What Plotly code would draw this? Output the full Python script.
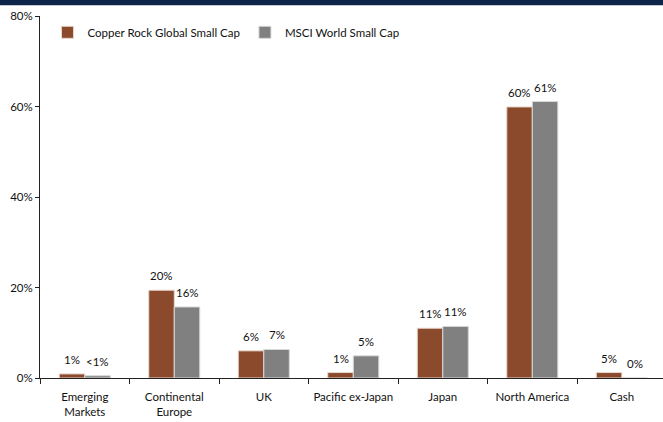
import plotly.graph_objects as go

categories = ["Emerging<br>Markets", "Continental<br>Europe", "UK", "Pacific ex-Japan",
              "Japan", "North America", "Cash"]
series_names = ["Copper Rock Global Small Cap", "MSCI World Small Cap"]
copper_values = [0.9, 19.4, 6.0, 1.2, 11.0, 59.9, 1.2]
msci_values = [0.5, 15.7, 6.3, 4.9, 11.4, 61.1, 0.0]
copper_labels = ["1%", "20%", "6%", "1%", "11%", "60%", "5%"]
msci_labels = ["<1%", "16%", "7%", "5%", "11%", "61%", "0%"]
y_ticks = [0, 20, 40, 60, 80]
y_tick_labels = ["0%", "20%", "40%", "60%", "80%"]

FONT = "Lato, Roboto, Noto Sans, sans-serif"
W, H = 663, 422
ML, MR, MT, MB = 40, 0, 16, 44
X_RANGE = [-0.5, 6.46]
BARGAP = 0.43

fig = go.Figure()
fig.add_trace(go.Bar(
    x=categories, y=copper_values, name=series_names[0],
    marker=dict(color="#8B4A2B", line=dict(color="#E6D6CC", width=1)),
))
fig.add_trace(go.Bar(
    x=categories, y=msci_values, name=series_names[1],
    marker=dict(color="#808080", line=dict(color="#D8D8D8", width=1)),
))

# value labels, placed over each bar of the group
cat_px = (W - ML - MR) / (X_RANGE[1] - X_RANGE[0])
bar_px = cat_px * (1 - BARGAP) / 2
annotations = []
for labels, values, sign in ((copper_labels, copper_values, -1), (msci_labels, msci_values, 1)):
    for c, v, t in zip(categories, values, labels):
        annotations.append(dict(
            x=c, y=v, xref="x", yref="y", text=t, showarrow=False,
            xanchor="center", yanchor="bottom", xshift=sign * bar_px / 2, yshift=6,
            font=dict(family=FONT, size=11.5, color="#111111"),
        ))

fig.update_layout(
    width=W, height=H,
    margin=dict(l=ML, r=MR, t=MT, b=MB),
    paper_bgcolor="white", plot_bgcolor="white",
    barmode="group", bargap=BARGAP, bargroupgap=0,
    font=dict(family=FONT, size=11.5, color="#111111"),
    showlegend=True,
    legend=dict(orientation="h", x=0.012, y=0.995, xanchor="left", yanchor="top",
                font=dict(family=FONT, size=11.5, color="#111111"),
                bgcolor="rgba(0,0,0,0)", itemwidth=30, traceorder="normal"),
    xaxis=dict(
        type="category", range=X_RANGE,
        showline=True, linecolor="#222222", linewidth=1,
        ticks="outside", tickson="boundaries", ticklen=5, tickcolor="#222222",
        ticklabelstandoff=8,
        showgrid=False, tickfont=dict(family=FONT, size=11.5, color="#111111"),
    ),
    yaxis=dict(
        range=[0, 80], tickvals=y_ticks, ticktext=y_tick_labels,
        showline=True, linecolor="#222222", linewidth=1,
        ticks="outside", ticklen=4, tickcolor="#222222",
        showgrid=False, zeroline=False,
        tickfont=dict(family=FONT, size=11.5, color="#111111"),
    ),
    annotations=annotations,
    shapes=[dict(type="rect", xref="paper", yref="paper",
                 x0=-0.08, x1=1.01, y0=1.030, y1=1.06,
                 fillcolor="#0B2447", line=dict(width=0), layer="above")],
)

fig.write_html("out.html", config={"displayModeBar": False},
               post_script="document.body.style.margin='0';")
